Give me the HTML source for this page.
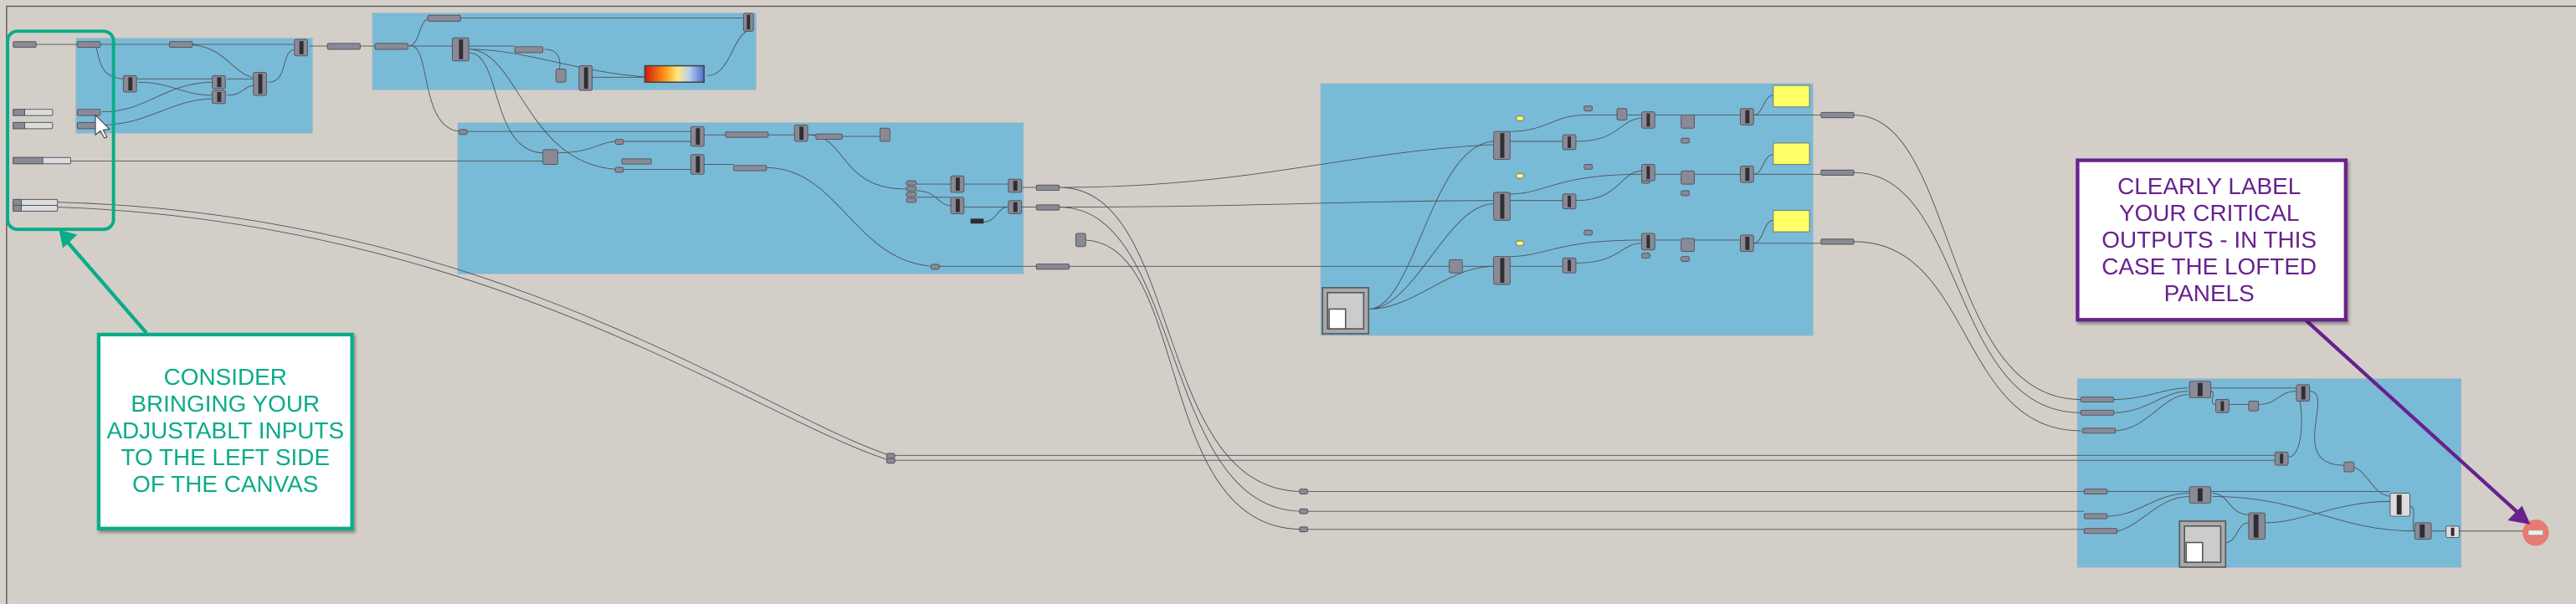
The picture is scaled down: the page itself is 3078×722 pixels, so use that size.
<!DOCTYPE html>
<html><head><meta charset="utf-8"><style>
html,body{margin:0;padding:0;background:#d6d2cb;}
svg{display:block}
</style></head><body>
<svg width="3078" height="722" viewBox="0 0 1566 367.4" preserveAspectRatio="none" xmlns="http://www.w3.org/2000/svg">
<defs>
<linearGradient id="grad" x1="0" x2="1"><stop offset="0" stop-color="#d21a0a"/><stop offset=".35" stop-color="#ff9a1a"/><stop offset=".55" stop-color="#ffe87a"/><stop offset=".75" stop-color="#b8d0f0"/><stop offset="1" stop-color="#4a6fc8"/></linearGradient>
<filter id="sh" x="-10%" y="-10%" width="130%" height="130%"><feDropShadow dx="1" dy="1.5" stdDeviation="1" flood-color="#000" flood-opacity=".35"/></filter>
</defs>
<rect x="0" y="0" width="1566" height="368" fill="#d6d2cb"/>
<rect x="4" y="3.8" width="1570" height="370" fill="#d3cfc8" stroke="#5a5752" stroke-width="0.7"/>

<g fill="#79bad7" stroke="#8fb7c8" stroke-width="0.6">
<rect x="46.3" y="23.4" width="143.5" height="57.5"/>
<rect x="226.5" y="8.1" width="233" height="46.4"/>
<rect x="278.4" y="74.8" width="343.6" height="91.6"/>
<rect x="803" y="51" width="299" height="153"/>
<rect x="1263" y="230.5" width="233" height="114.5"/>
</g>

<g fill="none" stroke="#4e5258" stroke-width="0.45">
<path d="M18 27 H180"/>
<path d="M112 27 C140 27,140 48,160 48"/>
<path d="M56 27 C62 27,56 48,76 48 H130"/>
<path d="M84 50 C105 50,110 58,130 58"/>
<path d="M62 68 C90 68,100 50,130 50"/>
<path d="M62 76 C90 76,105 60,130 60"/>
<path d="M138 48 H155 M138 58 C148 58,148 52,155 52"/>
<path d="M163 50 C176 50,170 30,180 30"/>
<path d="M188 28 H199 M219 28 H228"/>
<path d="M248 28 C256 28,254 11,262 11 H452"/>
<path d="M248 28 H275 M285 28 H313 M331 30 C344 30,340 44,339 46"/>
<path d="M285 30 C320 30,350 44,395 47 M360 47 H392"/>
<path d="M250 28 C262 28,255 80,281 80 H420"/>
<path d="M285 32 C305 32,298 92,330 93 M339 93 C360 93,365 86,375 86 H420"/>
<path d="M285 30 C315 30,320 100,375 103 H420"/>
<path d="M430 46 C445 46,445 18,458 18"/>
<path d="M43 98 H330"/>
<path d="M428 82 H441 M467 82 H483 M491 82 H496 M512 83 H535"/>
<path d="M491 82 C515 82,510 115,551 115"/>
<path d="M428 100 H446 M466 102 C510 102,520 160,568 162 H630"/>
<path d="M557 112 H578 M557 116 C570 116,570 125,578 125 M557 120 H578"/>
<path d="M586 112 H613 M586 126 H613 M598 135 C606 135,606 126,613 126"/>
<path d="M621 114 H630 M621 126 H630"/>
<path d="M644 114 C760 114,820 92,908 88"/>
<path d="M644 126 C760 126,820 122,908 122"/>
<path d="M650 162 H881 M889 162 H908"/>
<path d="M832 188 C860 188,870 88,908 86 M832 188 C860 188,880 124,908 124 M832 188 C860 188,880 162,908 162"/>
<path d="M918 86 H950 M918 122 H950 M918 162 H950"/>
<path d="M918 80 C940 80,945 70,963 70 H1058"/>
<path d="M918 118 C940 118,945 106,998 106 H1058 M918 156 C940 156,945 146,998 146 H1058"/>
<path d="M958 86 C985 86,985 72,998 72 M958 122 C985 122,985 104,998 104 M958 160 C985 160,985 148,998 148"/>
<path d="M1066 70 C1072 70,1072 58,1078 58 M1066 106 C1072 106,1072 94,1078 94 M1066 148 C1072 148,1072 134,1078 134"/>
<path d="M1066 70 H1107 M1066 106 H1107 M1066 148 H1107"/>
<path d="M1127 70 C1190 70,1180 243,1265 243"/>
<path d="M1127 105 C1195 105,1185 251,1265 251"/>
<path d="M1127 147 C1200 147,1190 262,1265 262"/>
<path d="M35 123 C300 130,460 250,541 277 H1383"/>
<path d="M35 126 C300 135,460 255,541 280 H1383"/>
<path d="M644 114 C720 114,700 299,792 299 H1267"/>
<path d="M644 126 C720 126,705 311,792 311 H1267"/>
<path d="M658 146 C725 146,700 322,792 322 H1267"/>
<path d="M1285 243 C1305 243,1315 236,1330 236 M1285 251 C1305 251,1315 238,1330 238 M1285 262 C1305 262,1315 240,1330 240"/>
<path d="M1344 236 H1396 M1344 238 C1348 238,1342 246,1347 246 M1355 246 H1367 M1373 246 C1385 246,1385 238,1396 238"/>
<path d="M1391 278 C1402 278,1400 240,1396 240 M1404 238 C1420 238,1390 283,1425 283 C1440 283,1440 300,1453 302"/>
<path d="M1281 299 H1453 M1281 314 C1300 314,1310 300,1331 300 M1281 324 C1300 324,1310 302,1331 302"/>
<path d="M1345 300 C1355 300,1355 313,1367 313 M1377 318 C1400 318,1420 305,1453 305"/>
<path d="M1345 302 C1400 302,1420 323,1468 323 M1465 308 C1470 308,1465 323,1468 323 M1476 323 H1487 M1495 323 H1535"/>
<path d="M1353 330 C1360 330,1360 318,1367 318"/>
</g>

<g fill="#8a8a96" stroke="#55555e" stroke-width="0.5">
<rect x="8" y="25.3" width="14" height="3.5" rx="0.8"/>
<rect x="47" y="25.3" width="14" height="3.5" rx="0.8"/>
<rect x="103" y="25.3" width="14" height="3.5" rx="0.8"/>
<rect x="8" y="66.5" width="24" height="3.8" rx="0.8" fill="#dcdcdc"/>
<rect x="8" y="74.5" width="24" height="3.8" rx="0.8" fill="#dcdcdc"/>
<rect x="8" y="95.8" width="35" height="3.8" rx="0.8" fill="#dcdcdc"/>
<rect x="8" y="121.3" width="27" height="3.6" rx="0.8" fill="#dcdcdc"/>
<rect x="8" y="124.9" width="27" height="3.6" rx="0.8" fill="#dcdcdc"/>
<rect x="8" y="66.5" width="7" height="3.8"/>
<rect x="8" y="74.5" width="7" height="3.8"/>
<rect x="8" y="95.8" width="18" height="3.8"/>
<rect x="8" y="121.3" width="5" height="3.6"/>
<rect x="8" y="124.9" width="5" height="3.6"/>
<rect x="47" y="66.5" width="14" height="3.8" rx="0.8"/>
<rect x="47" y="74.5" width="14" height="3.8" rx="0.8"/>
<rect x="199" y="26.4" width="20" height="3.6" rx="0.8"/>
<rect x="228" y="26.4" width="20" height="3.6" rx="0.8"/>
<rect x="260" y="9.3" width="20" height="3.6" rx="0.8"/>
<rect x="313" y="28.4" width="17" height="3.6" rx="0.8"/>
<rect x="441" y="80.3" width="26" height="3.2" rx="0.8"/>
<rect x="378" y="96.6" width="18" height="3.2" rx="0.8"/>
<rect x="446" y="100.6" width="20" height="3.2" rx="0.8"/>
<rect x="496" y="81.5" width="16" height="3.2" rx="0.8"/>
<rect x="630" y="112.6" width="14" height="3.2" rx="0.8"/>
<rect x="630" y="124.6" width="14" height="3.2" rx="0.8"/>
<rect x="630" y="160.6" width="20" height="3.2" rx="0.8"/>
<rect x="1107" y="68.4" width="20" height="3.2" rx="0.8"/>
<rect x="1107" y="103.4" width="20" height="3.2" rx="0.8"/>
<rect x="1107" y="145.4" width="20" height="3.2" rx="0.8"/>
<rect x="1265" y="241.5" width="20" height="3" rx="0.8"/>
<rect x="1265" y="249.5" width="20" height="3" rx="0.8"/>
<rect x="1266" y="260.5" width="20" height="3" rx="0.8"/>
<rect x="1267" y="297.5" width="14" height="3" rx="0.8"/>
<rect x="1267" y="312.5" width="14" height="3" rx="0.8"/>
<rect x="1267" y="321.5" width="20" height="3" rx="0.8"/>
<rect x="279" y="78.8" width="5" height="3" rx="1"/>
<rect x="374" y="84.8" width="5" height="3" rx="1"/>
<rect x="374" y="101.8" width="5" height="3" rx="1"/>
<rect x="566" y="160.8" width="5" height="3" rx="1"/>
<rect x="539" y="275.8" width="5" height="3" rx="1"/>
<rect x="539" y="278.8" width="5" height="3" rx="1"/>
<rect x="790" y="297.5" width="5" height="3" rx="1"/>
<rect x="790" y="309.5" width="5" height="3" rx="1"/>
<rect x="790" y="320.5" width="5" height="3" rx="1"/>
<rect x="963" y="64.5" width="5" height="3" rx="1"/>
<rect x="963" y="100" width="5" height="3" rx="1"/>
<rect x="963" y="140" width="5" height="3" rx="1"/>
<rect x="998" y="74.5" width="5" height="3" rx="1"/>
<rect x="998" y="108.5" width="5" height="3" rx="1"/>
<rect x="998" y="154" width="5" height="3" rx="1"/>
<rect x="1022" y="84" width="5" height="3" rx="1"/>
<rect x="1022" y="116" width="5" height="3" rx="1"/>
<rect x="1022" y="156" width="5" height="3" rx="1"/>
<rect x="551" y="110" width="6" height="2.6" rx="1"/>
<rect x="551" y="113.5" width="6" height="2.6" rx="1"/>
<rect x="551" y="117" width="6" height="2.6" rx="1"/>
<rect x="551" y="120.5" width="6" height="2.6" rx="1"/>
</g>
<g stroke="#55555e" stroke-width="0.5">
<g fill="#8a8a96">
<rect x="179" y="24" width="8" height="10" rx="1"/>
<rect x="75" y="46" width="8" height="10" rx="1"/>
<rect x="129" y="46" width="8" height="8" rx="1"/>
<rect x="129" y="55" width="8" height="8" rx="1"/>
<rect x="154" y="44" width="8" height="14" rx="1"/>
<rect x="452" y="8" width="6" height="11" rx="1"/>
<rect x="275" y="23" width="10" height="14" rx="1"/>
<rect x="338" y="42" width="6" height="8" rx="1"/>
<rect x="352" y="40" width="8" height="15" rx="1"/>
<rect x="330" y="91" width="9" height="9" rx="1"/>
<rect x="420" y="77" width="8" height="12" rx="1"/>
<rect x="420" y="94" width="8" height="12" rx="1"/>
<rect x="483" y="76" width="8" height="10" rx="1"/>
<rect x="535" y="78" width="6" height="8" rx="1"/>
<rect x="578" y="107" width="8" height="10" rx="1"/>
<rect x="578" y="120" width="8" height="10" rx="1"/>
<rect x="613" y="109" width="8" height="8" rx="1"/>
<rect x="613" y="122" width="8" height="8" rx="1"/>
<rect x="654" y="142" width="6" height="8" rx="1"/>
<rect x="908" y="80" width="10" height="17" rx="1"/>
<rect x="908" y="117" width="10" height="17" rx="1"/>
<rect x="908" y="156" width="10" height="17" rx="1"/>
<rect x="881" y="158" width="8" height="8" rx="1"/>
<rect x="950" y="82" width="8" height="9" rx="1"/>
<rect x="950" y="118" width="8" height="9" rx="1"/>
<rect x="950" y="157" width="8" height="9" rx="1"/>
<rect x="983" y="66" width="6" height="7" rx="1"/>
<rect x="998" y="68" width="8" height="10" rx="1"/>
<rect x="1022" y="70" width="8" height="8" rx="1"/>
<rect x="1058" y="66" width="8" height="10" rx="1"/>
<rect x="998" y="100" width="8" height="10" rx="1"/>
<rect x="1022" y="104" width="8" height="8" rx="1"/>
<rect x="1058" y="101" width="8" height="10" rx="1"/>
<rect x="998" y="142" width="8" height="10" rx="1"/>
<rect x="1022" y="145" width="8" height="8" rx="1"/>
<rect x="1058" y="143" width="8" height="10" rx="1"/>
<rect x="1331" y="232" width="13" height="10" rx="1"/>
<rect x="1347" y="243" width="8" height="8" rx="1"/>
<rect x="1367" y="244" width="6" height="6" rx="1"/>
<rect x="1396" y="234" width="8" height="10" rx="1"/>
<rect x="1383" y="275" width="8" height="8" rx="1"/>
<rect x="1425" y="281" width="6" height="6" rx="1"/>
<rect x="1331" y="296" width="13" height="10" rx="1"/>
<rect x="1367" y="312" width="10" height="16" rx="1"/>
<rect x="1468" y="318" width="10" height="10" rx="1"/>
</g>
<rect x="1453" y="300" width="12" height="14" rx="1" fill="#ddd"/>
<rect x="1487" y="320" width="8" height="7" rx="1" fill="#ddd"/>
</g>
<g fill="#2e2e33">
<rect x="182" y="25" width="2.5" height="8"/><rect x="78" y="47" width="2.5" height="8"/><rect x="132" y="47" width="2.5" height="6"/><rect x="132" y="56" width="2.5" height="6"/><rect x="157" y="45" width="2.5" height="12"/><rect x="454" y="9" width="2" height="9"/><rect x="279" y="24" width="2.5" height="12"/><rect x="355" y="41" width="2.5" height="13"/><rect x="423" y="78" width="2.5" height="10"/><rect x="423" y="95" width="2.5" height="10"/><rect x="486" y="77" width="2.5" height="8"/><rect x="581" y="108" width="2.5" height="8"/><rect x="581" y="121" width="2.5" height="8"/><rect x="616" y="110" width="2.5" height="6"/><rect x="616" y="123" width="2.5" height="6"/><rect x="590" y="133" width="8" height="3"/>
<rect x="912" y="81" width="2.5" height="15"/><rect x="912" y="118" width="2.5" height="15"/><rect x="912" y="157" width="2.5" height="15"/><rect x="953" y="83" width="2" height="7"/><rect x="953" y="119" width="2" height="7"/><rect x="953" y="158" width="2" height="7"/><rect x="1061" y="67" width="2.5" height="8"/><rect x="1061" y="102" width="2.5" height="8"/><rect x="1061" y="144" width="2.5" height="8"/><rect x="1001" y="69" width="2" height="8"/><rect x="1001" y="101" width="2" height="8"/><rect x="1001" y="143" width="2" height="8"/>
<rect x="1336" y="233" width="3" height="8"/><rect x="1350" y="244" width="2" height="6"/><rect x="1399" y="235" width="2.5" height="8"/><rect x="1386" y="276" width="2" height="6"/><rect x="1336" y="297" width="3" height="8"/><rect x="1370" y="313" width="3" height="14"/><rect x="1471" y="319" width="3" height="8"/><rect x="1457" y="301" width="3" height="12"/><rect x="1490" y="321" width="2" height="5"/>
</g>
<rect x="392" y="40" width="36" height="10" fill="url(#grad)" stroke="#444" stroke-width="0.8"/>
<g fill="#ffff66" stroke="#777" stroke-width="0.5">
<rect x="1078" y="52" width="22" height="13"/><rect x="1078" y="87" width="22" height="13"/><rect x="1078" y="128" width="22" height="13"/>
<ellipse cx="924" cy="72" rx="2.5" ry="1.5"/><ellipse cx="924" cy="107" rx="2.5" ry="1.5"/><ellipse cx="924" cy="148" rx="2.5" ry="1.5"/>
</g>
<g stroke="#555" stroke-width="0.8">
<rect x="804" y="175" width="28" height="28" fill="#a9a9ae"/><rect x="807" y="178" width="22" height="22" fill="#ccc"/><rect x="808" y="188" width="10" height="12" fill="#fff"/>
<rect x="1325" y="317" width="28" height="28" fill="#a9a9ae"/><rect x="1328" y="320" width="22" height="22" fill="#ccc"/><rect x="1329" y="330" width="10" height="12" fill="#fff"/>
</g>
<path d="M58 70 L58 82 L61 79.5 L63.5 84 L65 83.3 L62.7 79 L66.5 78.5 Z" fill="#fff" stroke="#333" stroke-width="0.5"/>

<circle cx="1541.5" cy="324" r="8" fill="#e77b73"/>
<rect x="1537" y="322.5" width="9" height="3" fill="#eee" stroke="#999" stroke-width="0.4"/>

<rect x="4.6" y="19" width="64.4" height="120.5" rx="6" fill="none" stroke="#0bab89" stroke-width="2"/>
<line x1="89" y1="202.5" x2="40" y2="146" stroke="#0bab89" stroke-width="2.2"/>
<polygon points="36.5,140.5 46,143 38.5,150" fill="#0bab89" stroke="#0bab89" stroke-width="1"/>
<rect x="60" y="203.5" width="154" height="118" fill="#fff" stroke="#0bab89" stroke-width="2.2" filter="url(#sh)"/>
<g font-family="Liberation Sans, sans-serif" font-size="14.2" fill="#0bab89" text-anchor="middle">
<text x="137" y="234">CONSIDER</text><text x="137" y="250.4">BRINGING YOUR</text><text x="137" y="266.7">ADJUSTABLT INPUTS</text><text x="137" y="283">TO THE LEFT SIDE</text><text x="137" y="299.2">OF THE CANVAS</text>
</g>

<line x1="1402" y1="195" x2="1532" y2="313" stroke="#68218d" stroke-width="2.2"/>
<polygon points="1537,318 1526,316 1533,309" fill="#68218d" stroke="#68218d" stroke-width="1.5"/>
<rect x="1263" y="97.5" width="163" height="97" fill="#fff" stroke="#68218d" stroke-width="2.2" filter="url(#sh)"/>
<g font-family="Liberation Sans, sans-serif" font-size="14.2" fill="#68218d" text-anchor="middle">
<text x="1343" y="118">CLEARLY LABEL</text><text x="1343" y="134.4">YOUR CRITICAL</text><text x="1343" y="150.6">OUTPUTS - IN THIS</text><text x="1343" y="167">CASE THE LOFTED</text><text x="1343" y="183.2">PANELS</text>
</g>
</svg>
</body></html>
